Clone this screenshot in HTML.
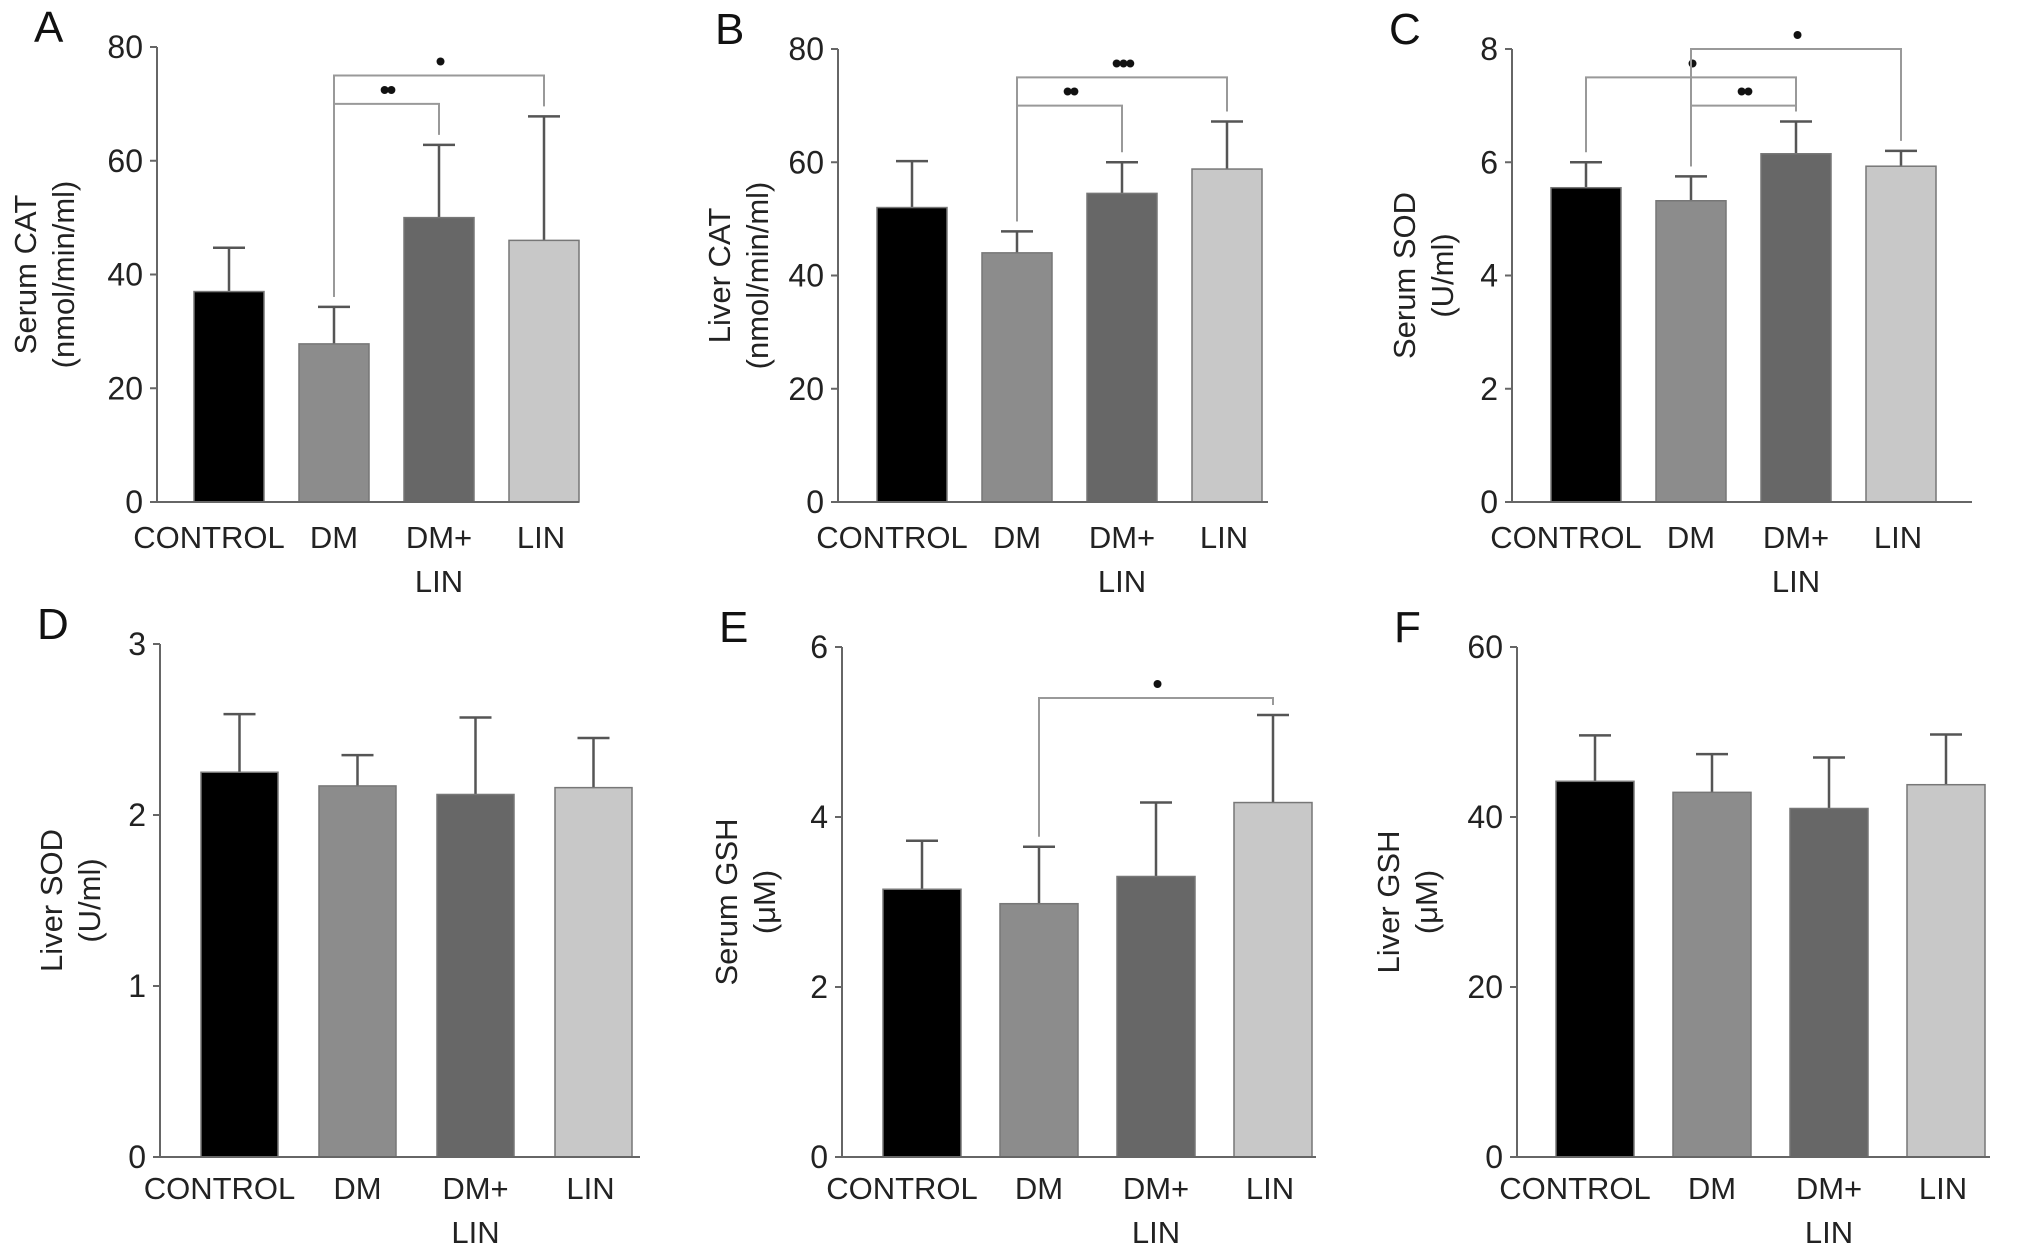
<!DOCTYPE html>
<html><head><meta charset="utf-8">
<style>
html,body{margin:0;padding:0;background:#fff;}
svg{display:block;font-family:"Liberation Sans",Arial,sans-serif;}
</style></head>
<body>
<svg id="fig" width="2032" height="1255" viewBox="0 0 2032 1255" xmlns="http://www.w3.org/2000/svg"></svg>
<script>
const categories = ["CONTROL","DM","DM+|LIN","LIN"];
const colors = ["#000000","#8c8c8c","#676767","#c8c8c8"];
// Panel A
const aMeans = [37, 27.8, 50, 46];
const aErrs  = [44.7, 34.3, 62.8, 67.8];
const aTicks = [0,20,40,60,80];
// Panel B
const bMeans = [52, 44, 54.5, 58.8];
const bErrs  = [60.2, 47.8, 60, 67.2];
const bTicks = [0,20,40,60,80];
// Panel C
const cMeans = [5.55, 5.32, 6.15, 5.93];
const cErrs  = [6.0, 5.75, 6.72, 6.2];
const cTicks = [0,2,4,6,8];
// Panel D
const dMeans = [2.25, 2.17, 2.12, 2.16];
const dErrs  = [2.59, 2.35, 2.57, 2.45];
const dTicks = [0,1,2,3];
// Panel E
const eMeans = [3.15, 2.98, 3.3, 4.17];
const eErrs  = [3.72, 3.65, 4.17, 5.2];
const eTicks = [0,2,4,6];
// Panel F
const fMeans = [44.2, 42.9, 41, 43.8];
const fErrs  = [49.6, 47.4, 47, 49.7];
const fTicks = [0,20,40,60];
// significance brackets: [from, to, level, label]
const aSig = [[1,2,70,"**"],[1,3,75,"*"]];
const bSig = [[1,2,70,"**"],[1,3,75,"***"]];
const cSig = [[1,2,7.0,"**"],[0,2,7.5,"*"],[1,3,8.0,"*"]];
const eSig = [[1,3,5.4,"*"]];

const NS="http://www.w3.org/2000/svg";
const svg=document.getElementById('fig');
function mk(tag,attrs,parent,text){const e=document.createElementNS(NS,tag);for(const k in attrs)e.setAttribute(k,attrs[k]);if(text!==undefined)e.textContent=text;(parent||svg).appendChild(e);return e;}

const panels=[
 {id:'a',letter:'A',ax:157,top:47,bot:502,end:579,b0:194,bw:70,step:105,means:aMeans,errs:aErrs,ticks:aTicks,sig:aSig,yl:["Serum CAT","(nmol/min/ml)"],ylx:42,lblY:537},
 {id:'b',letter:'B',ax:838,top:49,bot:502,end:1268,b0:877,bw:70,step:105,means:bMeans,errs:bErrs,ticks:bTicks,sig:bSig,yl:["Liver CAT","(nmol/min/ml)"],ylx:736,lblY:537},
 {id:'c',letter:'C',ax:1512,top:49,bot:502,end:1972,b0:1551,bw:70,step:105,means:cMeans,errs:cErrs,ticks:cTicks,sig:cSig,yl:["Serum SOD","(U/ml)"],ylx:1421,lblY:537},
 {id:'d',letter:'D',ax:160,top:644,bot:1157,end:640,b0:201,bw:77,step:118,means:dMeans,errs:dErrs,ticks:dTicks,sig:[],yl:["Liver SOD","(U/ml)"],ylx:68,lblY:1188},
 {id:'e',letter:'E',ax:842,top:647,bot:1157,end:1316,b0:883,bw:78,step:117,means:eMeans,errs:eErrs,ticks:eTicks,sig:eSig,yl:["Serum GSH","(\u03bcM)"],ylx:743,lblY:1188},
 {id:'f',letter:'F',ax:1517,top:647,bot:1157,end:1990,b0:1556,bw:78,step:117,means:fMeans,errs:fErrs,ticks:fTicks,sig:[],yl:["Liver GSH","(\u03bcM)"],ylx:1405,lblY:1188}
];

panels.forEach(p=>{
  const g=mk('g',{});
  
  
  const max=p.ticks[p.ticks.length-1];
  const y=v=>p.bot-(v/max)*(p.bot-p.top);
  const xc=i=>p.b0+i*p.step+p.bw/2;
  const L=mk('text',{x:p.ax-123,y:p.top-5,'font-size':44,fill:'#111'},g,p.letter);
  
  
  p.means.forEach((m,i)=>{
    const cx=xc(i);
    const e1=mk('line',{x1:cx,x2:cx,y1:y(m),y2:y(p.errs[i]),stroke:'#555','stroke-width':2.5},g);
    
    
    mk('line',{x1:cx-16,x2:cx+16,y1:y(p.errs[i]),y2:y(p.errs[i]),stroke:'#555','stroke-width':2.5},g);
    const r=mk('rect',{x:p.b0+i*p.step,y:y(m),width:p.bw,height:p.bot-y(m),fill:colors[i],stroke:'#777','stroke-width':1.5},g);
    
    
    const parts=categories[i].split('|');
    parts.forEach((t,k)=>{
      const tx=mk('text',{x:cx+(i==0?-20:(i==3?-3:0)),y:p.lblY+11+k*44,'font-size':31,'text-anchor':'middle',fill:'#222'},g,t);
      
      
    });
  });
  const ya=mk('line',{x1:p.ax,x2:p.ax,y1:p.top,y2:p.bot,stroke:'#666','stroke-width':2},g);
  
  
  const xa=mk('line',{x1:p.ax-6,x2:p.end,y1:p.bot,y2:p.bot,stroke:'#666','stroke-width':2},g);
  
  
  p.ticks.forEach(t=>{
    mk('line',{x1:p.ax-7,x2:p.ax,y1:y(t),y2:y(t),stroke:'#666','stroke-width':2},g);
    const tl=mk('text',{x:p.ax-14,y:y(t)+11,'font-size':32,'text-anchor':'end',fill:'#222'},g,t);
    
    
  });
  const cy=(p.top+p.bot)/2;
  const yt=mk('text',{transform:`translate(${p.ylx},${cy}) rotate(-90)`,'font-size':31,'text-anchor':'middle',fill:'#222'},g);
  
  
  mk('tspan',{x:0,y:-6},yt,p.yl[0]);
  mk('tspan',{x:0,y:32},yt,p.yl[1]);
  p.sig.forEach(s=>{
    const [a,b,lv,lab]=s;
    const x1=xc(a),x2=xc(b),yy=y(lv);
    const y1=y(p.errs[a])-10, y2=y(p.errs[b])-10;
    const br=mk('path',{d:`M${x1},${y1} L${x1},${yy} L${x2},${yy} L${x2},${y2}`,fill:'none',stroke:'#999','stroke-width':2},g);
    
    
    const st=mk('text',{x:(x1+x2)/2,y:yy-5,'font-size':28,'font-weight':'bold','text-anchor':'middle',fill:'#111','letter-spacing':'-3'},g,lab.replace(/\*/g,'\u2022'));
    
    
  });
});
</script>
</body></html>
